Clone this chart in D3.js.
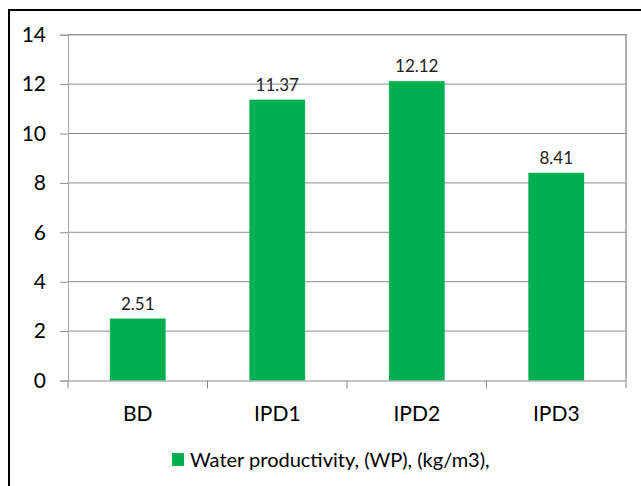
<!DOCTYPE html>
<html><head><meta charset="utf-8">
<script src="https://cdn.jsdelivr.net/npm/d3@7"></script>
<style>body{margin:0;background:#fff}svg{display:block}</style>
</head><body>
<script>
const categories = ["BD", "IPD1", "IPD2", "IPD3"];
const values = [2.51, 11.37, 12.12, 8.41];
const valueLabels = ["2.51", "11.37", "12.12", "8.41"];
const yTicks = [0, 2, 4, 6, 8, 10, 12, 14];
const seriesName = "Water productivity, (WP), (kg/m3),";

(function () {
const W = 641, H = 486;
const font = "Lato, 'Open Sans', sans-serif";
const green = "#00B050";
const svg = d3.select("body").append("svg").attr("width", W).attr("height", H);
svg.append("rect").attr("width", W).attr("height", H).attr("fill", "#fff");

// outer frame (cut at right/bottom)
svg.append("path").attr("d", `M9,${H+5} L9,10 L${W+5},10`)
  .attr("fill", "none").attr("stroke", "#000").attr("stroke-width", 2);

const pLeft = 68, pRight = 626, pTop = 34.7, pBottom = 380.5;
const x = d3.scaleBand().domain(categories).range([pLeft, pRight]).paddingInner(0.6).paddingOuter(0.3);
const xb = d3.scaleBand().domain(categories).range([pLeft, pRight]).padding(0);
const y = d3.scaleLinear().domain([0, 14]).range([pBottom, pTop]);

// gridlines
svg.append("g").selectAll("line").data(yTicks.filter(d => d > 0 && d < 14)).join("line")
  .attr("x1", pLeft).attr("x2", pRight).attr("y1", d => y(d)).attr("y2", d => y(d))
  .attr("stroke", "#8c8c8c").attr("stroke-width", 1);

// plot border top/right
svg.append("path").attr("d", `M${pLeft},${y(14)} L${pRight},${y(14)} L${pRight},${pBottom}`)
  .attr("fill", "none").attr("stroke", "#999").attr("stroke-width", 1.5);

// y axis
const yAxis = svg.append("g").attr("transform", `translate(${pLeft},0)`)
  .call(d3.axisLeft(y).tickValues(yTicks).tickSize(8).tickPadding(14).tickFormat(d3.format("d")));
yAxis.select(".domain").attr("stroke", "#a6a6a6");
yAxis.selectAll(".tick line").attr("stroke", "#8c8c8c");
yAxis.selectAll("text").attr("font-family", font).attr("font-size", 21).attr("fill", "#000");

// bars
svg.append("g").selectAll("rect").data(values).join("rect")
  .attr("x", (d, i) => x(categories[i])).attr("width", x.bandwidth())
  .attr("y", d => y(d)).attr("height", d => y(0) - y(d)).attr("fill", green);

// x axis
const xAxis = svg.append("g").attr("transform", `translate(0,${pBottom})`)
  .call(d3.axisBottom(xb).tickSize(0).tickPadding(25.5));
xAxis.select(".domain").attr("stroke", "#8c8c8c");
xAxis.selectAll("text").attr("font-family", font).attr("font-size", 21).attr("fill", "#000");
svg.append("g").selectAll("line").data(categories.concat(["_end"])).join("line")
  .attr("x1", (d, i) => pLeft + i * xb.step()).attr("x2", (d, i) => pLeft + i * xb.step())
  .attr("y1", pBottom).attr("y2", pBottom + 8).attr("stroke", "#8c8c8c");

// data labels
svg.append("g").selectAll("text").data(values).join("text")
  .attr("x", (d, i) => x(categories[i]) + x.bandwidth() / 2)
  .attr("y", d => y(d) - 9)
  .attr("text-anchor", "middle").attr("font-family", font).attr("font-size", 17).attr("fill", "#222")
  .text((d, i) => valueLabels[i]);

// legend
const lg = svg.append("g");
lg.append("rect").attr("x", 172).attr("y", 453).attr("width", 12).attr("height", 13).attr("fill", green);
lg.append("text").attr("x", 190).attr("y", 466.5).attr("font-family", font).attr("font-size", 20)
  .attr("fill", "#000").text(seriesName);
})();
</script>
</body></html>
